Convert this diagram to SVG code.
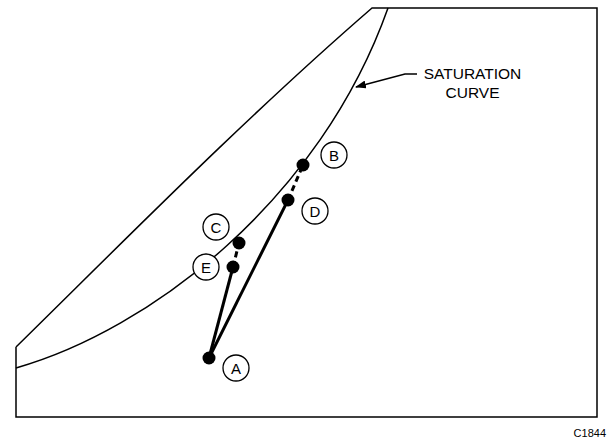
<svg xmlns="http://www.w3.org/2000/svg" width="613" height="441" viewBox="0 0 613 441">
<style>
.ln{fill:none;stroke:#000;stroke-width:1.5}
.thk{fill:none;stroke:#000;stroke-width:3}
.dsh{fill:none;stroke:#000;stroke-width:3;stroke-dasharray:6 4}
.dot{fill:#000}
.lc{fill:#fff;stroke:#000;stroke-width:1.3}
text{font-family:"Liberation Sans",Arial,sans-serif;fill:#000}
.lt{font-size:15px;text-anchor:middle}
</style>
<defs>
<marker id="ah" markerWidth="11" markerHeight="8" refX="10" refY="4" orient="auto" markerUnits="userSpaceOnUse">
<path d="M0,0 L11,4 L0,8 Z" fill="#000"/>
</marker>
</defs>
<g id="frame">
<path class="ln" d="M16,347 L16,417 L597,417 L597,8 L372,8 C245,118 125,240 16,347"/>
</g>
<g id="saturation-curve">
<path class="ln" d="M16,368 C150,330 320,200 388,8"/>
</g>
<g id="connectors">
<line class="thk" x1="209" y1="358" x2="233" y2="267"/>
<line class="thk" x1="209" y1="358" x2="288" y2="200"/>
<line class="dsh" x1="288" y1="200" x2="303" y2="165"/>
<line class="dsh" x1="233" y1="267" x2="239" y2="243"/>
<path class="ln" d="M417,74 L405,74 L356,87" marker-end="url(#ah)"/>
</g>
<g id="sat-label">
<text x="472.5" y="79" font-size="15.5" text-anchor="middle">SATURATION</text>
<text x="472.5" y="98" font-size="15.5" text-anchor="middle">CURVE</text>
</g>
<g id="A"><circle class="dot" cx="209" cy="358" r="6.5"/><circle class="lc" cx="236" cy="368" r="13"/><text class="lt" x="236" y="373.5">A</text></g>
<g id="B"><circle class="dot" cx="303" cy="165" r="6.5"/><circle class="lc" cx="334" cy="155" r="13"/><text class="lt" x="334" y="160.5">B</text></g>
<g id="C"><circle class="dot" cx="239" cy="243" r="6.5"/><circle class="lc" cx="216" cy="227" r="13"/><text class="lt" x="216" y="232.5">C</text></g>
<g id="D"><circle class="dot" cx="288" cy="200" r="6.5"/><circle class="lc" cx="315" cy="211" r="13"/><text class="lt" x="315" y="216.5">D</text></g>
<g id="E"><circle class="dot" cx="233" cy="267" r="6.5"/><circle class="lc" cx="206" cy="267" r="13"/><text class="lt" x="206" y="272.5">E</text></g>
<text x="606" y="437" font-size="11" text-anchor="end">C1844</text>
</svg>
